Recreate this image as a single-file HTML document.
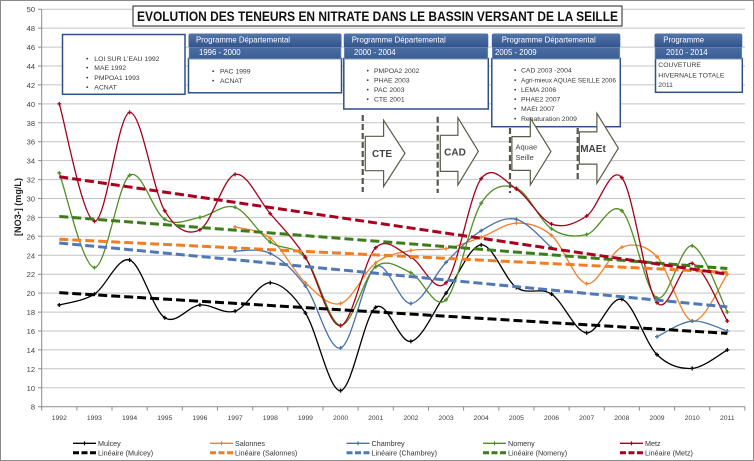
<!DOCTYPE html>
<html><head><meta charset="utf-8"><style>
html,body{margin:0;padding:0;background:#fff;}
svg{display:block;font-family:"Liberation Sans",sans-serif;}
</style></head><body>
<svg id="c" width="754" height="461" viewBox="0 0 754 461" xmlns="http://www.w3.org/2000/svg">
<rect x="0.5" y="0.5" width="753" height="460" fill="#fff" stroke="#8a8a8a"/>
<g id="grid"></g>
<g id="series"></g>
<g id="trends"></g>

<!-- Y tick labels -->
<g font-size="7.5" fill="#404040" text-anchor="end">
<text x="35" y="409.7">8</text><text x="35" y="390.8">10</text><text x="35" y="371.8">12</text>
<text x="35" y="352.9">14</text><text x="35" y="334.0">16</text><text x="35" y="315.1">18</text>
<text x="35" y="296.1">20</text><text x="35" y="277.2">22</text><text x="35" y="258.3">24</text>
<text x="35" y="239.3">26</text><text x="35" y="220.4">28</text><text x="35" y="201.5">30</text>
<text x="35" y="182.6">32</text><text x="35" y="163.6">34</text><text x="35" y="144.7">36</text>
<text x="35" y="125.8">38</text><text x="35" y="106.8">40</text><text x="35" y="87.9">42</text>
<text x="35" y="69.0">44</text><text x="35" y="50.1">46</text><text x="35" y="31.1">48</text>
<text x="35" y="12.2">50</text>
</g>
<!-- Y axis title -->
<text transform="translate(21,207) rotate(-90)" text-anchor="middle" font-size="9" font-weight="bold" fill="#222" textLength="58" lengthAdjust="spacingAndGlyphs">[NO3-] (mg/L)</text>

<!-- X labels -->
<g font-size="6.8" fill="#404040" text-anchor="middle">
<text x="59.3" y="420">1992</text><text x="94.4" y="420">1993</text><text x="129.6" y="420">1994</text>
<text x="164.8" y="420">1995</text><text x="199.9" y="420">1996</text><text x="235.1" y="420">1997</text>
<text x="270.3" y="420">1998</text><text x="305.4" y="420">1999</text><text x="340.6" y="420">2000</text>
<text x="375.7" y="420">2001</text><text x="410.9" y="420">2002</text><text x="446.1" y="420">2003</text>
<text x="481.2" y="420">2004</text><text x="516.4" y="420">2005</text><text x="551.5" y="420">2006</text>
<text x="586.7" y="420">2007</text><text x="621.8" y="420">2008</text><text x="657.0" y="420">2009</text>
<text x="692.2" y="420">2010</text><text x="727.3" y="420">2011</text>
</g>

<!-- Title -->
<rect x="133" y="6" width="489" height="20" fill="#fff" stroke="#222" stroke-width="1"/>
<text x="137" y="21.2" font-size="13.5" font-weight="bold" fill="#111" textLength="481" lengthAdjust="spacingAndGlyphs">EVOLUTION DES TENEURS EN NITRATE DANS LE BASSIN VERSANT DE LA SEILLE</text>

<!-- Box 1 -->
<rect x="62.5" y="34.5" width="122.5" height="59.8" fill="#fff" stroke="#2f5088" stroke-width="1.5"/>
<g font-size="6.8" fill="#3a3a3a">
<text x="86" y="60.8">•</text><text x="94.3" y="60.8">LOI SUR L'EAU 1992</text>
<text x="86" y="70.2">•</text><text x="94.3" y="70.2">MAE 1992</text>
<text x="86" y="79.8">•</text><text x="94.3" y="79.8">PMPOA1 1993</text>
<text x="86" y="89.5">•</text><text x="94.3" y="89.5">ACNAT</text>
</g>

<defs>
<linearGradient id="hg" x1="0" y1="0" x2="0" y2="1">
<stop offset="0" stop-color="#5275aa"/><stop offset="1" stop-color="#31538a"/>
</linearGradient>
<linearGradient id="hg2" x1="0" y1="0" x2="0" y2="1">
<stop offset="0" stop-color="#4a6ea4"/><stop offset="1" stop-color="#3a5d94"/>
</linearGradient>
</defs>

<!-- Box 2 -->
<rect x="188.5" y="58.5" width="153" height="34.3" fill="#fff" stroke="#2f5088" stroke-width="1.5"/>
<rect x="188.5" y="33.5" width="153" height="14.2" rx="2" fill="url(#hg)"/>
<rect x="189" y="47.7" width="152" height="11.2" fill="url(#hg2)" stroke="#7f9bc8" stroke-width="0.6"/>
<text x="196" y="42.3" font-size="7.8" fill="#fff">Programme Départemental</text>
<text x="199" y="55.2" font-size="7.8" fill="#fff">1996 - 2000</text>
<g font-size="6.8" fill="#3a3a3a">
<text x="212" y="73.5">•</text><text x="220" y="73.5">PAC 1999</text>
<text x="212" y="83">•</text><text x="220" y="83">ACNAT</text>
</g>

<!-- Box 3 -->
<rect x="343.8" y="58.5" width="144.5" height="50.5" fill="#fff" stroke="#2f5088" stroke-width="1.5"/>
<rect x="343.8" y="33.5" width="144.5" height="14.2" rx="2" fill="url(#hg)"/>
<rect x="344.3" y="47.7" width="143.5" height="11.2" fill="url(#hg2)" stroke="#7f9bc8" stroke-width="0.6"/>
<text x="351.7" y="42.3" font-size="7.8" fill="#fff">Programme Départemental</text>
<text x="354" y="55.2" font-size="7.8" fill="#fff">2000 - 2004</text>
<g font-size="6.8" fill="#3a3a3a">
<text x="366.5" y="73">•</text><text x="374" y="73">PMPOA2 2002</text>
<text x="366.5" y="82.5">•</text><text x="374" y="82.5">PHAE 2003</text>
<text x="366.5" y="92">•</text><text x="374" y="92">PAC 2003</text>
<text x="366.5" y="101.6">•</text><text x="374" y="101.6">CTE 2001</text>
</g>

<!-- Box 4 -->
<rect x="491.8" y="58.5" width="128.5" height="68.2" fill="#fff" stroke="#2f5088" stroke-width="1.5"/>
<rect x="491.8" y="33.5" width="128.5" height="14.2" rx="2" fill="url(#hg)"/>
<rect x="492.3" y="47.7" width="127.5" height="11.2" fill="url(#hg2)" stroke="#7f9bc8" stroke-width="0.6"/>
<text x="501.7" y="42.3" font-size="7.8" fill="#fff">Programme Départemental</text>
<text x="495" y="55.2" font-size="7.8" fill="#fff">2005 - 2009</text>
<g font-size="6.8" fill="#3a3a3a">
<text x="514" y="72.5">•</text><text x="521" y="72.5">CAD 2003 -2004</text>
<text x="514" y="82.4">•</text><text x="521" y="82.4" textLength="95" lengthAdjust="spacingAndGlyphs">Agri-mieux AQUAE SEILLE 2006</text>
<text x="514" y="91.8">•</text><text x="521" y="91.8">LEMA 2006</text>
<text x="514" y="101.5">•</text><text x="521" y="101.5">PHAE2 2007</text>
<text x="514" y="111.2">•</text><text x="521" y="111.2">MAEt 2007</text>
<text x="514" y="120.8">•</text><text x="521" y="120.8">Renaturation 2009</text>
</g>

<!-- Box 5 -->
<rect x="655.5" y="58.5" width="86.8" height="33.8" fill="#fff" stroke="#2f5088" stroke-width="1.5"/>
<rect x="654.5" y="33.5" width="87.8" height="14.2" rx="2" fill="url(#hg)"/>
<rect x="655" y="47.7" width="86.8" height="11.2" fill="url(#hg2)" stroke="#7f9bc8" stroke-width="0.6"/>
<text x="663.3" y="42.3" font-size="7.8" fill="#fff">Programme</text>
<text x="666" y="55.2" font-size="7.8" fill="#fff">2010 - 2014</text>
<g font-size="6.8" fill="#3a3a3a">
<text x="658.3" y="66.8">COUVETURE</text>
<text x="658.3" y="77.5">HIVERNALE TOTALE</text>
<text x="658.3" y="86.8">2011</text>
</g>

<!-- Dashed vertical lines -->
<g stroke="#55554a" stroke-width="2.2" stroke-dasharray="6 3" fill="none">
<line x1="362.7" y1="115" x2="362.7" y2="192"/>
<line x1="437.7" y1="116.7" x2="437.7" y2="193"/>
<line x1="510" y1="128" x2="510" y2="193"/>
<line x1="577.7" y1="128" x2="577.7" y2="182"/>
</g>

<!-- Arrows -->
<g fill="#fff" stroke="#5a5a46" stroke-linejoin="miter">
<polygon stroke-width="4" points="366.7,137.7 385,137.7 385,125 403.3,153.3 385,181.7 385,169.3 366.7,169.3"/>
<polygon stroke-width="1.6" stroke="#fff" points="366.7,137.7 385,137.7 385,125 403.3,153.3 385,181.7 385,169.3 366.7,169.3"/>
<polygon stroke-width="4" points="441.7,136.7 459.3,136.7 459.3,122.7 476.7,151.3 459.3,180 459.3,170 441.7,170"/>
<polygon stroke-width="1.6" stroke="#fff" points="441.7,136.7 459.3,136.7 459.3,122.7 476.7,151.3 459.3,180 459.3,170 441.7,170"/>
<polygon stroke-width="4" points="513.3,138 531.7,138 531.7,123 549.3,151.5 531.7,180 531.7,169 513.3,169"/>
<polygon stroke-width="1.6" stroke="#fff" points="513.3,138 531.7,138 531.7,123 549.3,151.5 531.7,180 531.7,169 513.3,169"/>
<polygon stroke-width="4" points="580.7,133.3 598.3,133.3 598.3,118.3 616.7,148.3 598.3,178.3 598.3,162.7 580.7,162.7"/>
<polygon stroke-width="1.6" stroke="#fff" points="580.7,133.3 598.3,133.3 598.3,118.3 616.7,148.3 598.3,178.3 598.3,162.7 580.7,162.7"/>
</g>
<g fill="#444" font-weight="bold">
<text x="382" y="157" font-size="10" text-anchor="middle">CTE</text>
<text x="455" y="155.5" font-size="10" text-anchor="middle">CAD</text>
<text x="515.5" y="149.5" font-size="7.5" font-weight="normal">Aquae</text>
<text x="515.5" y="160" font-size="7.5" font-weight="normal">Seille</text>
<text x="593" y="152" font-size="10" text-anchor="middle">MAEt</text>
</g>

<!-- Legend -->
<g font-size="7.2" fill="#333">
<line x1="73" y1="443.3" x2="96" y2="443.3" stroke="#000" stroke-width="1.3"/><path d="M84.5,441.3v4" stroke="#000" stroke-width="1.2"/>
<text x="98" y="446">Mulcey</text>
<line x1="210" y1="443.3" x2="233" y2="443.3" stroke="#f0802a" stroke-width="1.3"/><path d="M221.5,441.3v4" stroke="#f0802a" stroke-width="1.2"/>
<text x="235" y="446">Salonnes</text>
<line x1="346.5" y1="443.3" x2="369.5" y2="443.3" stroke="#4a72a8" stroke-width="1.3"/><path d="M358,441.3v4" stroke="#4a72a8" stroke-width="1.2"/>
<text x="371.5" y="446">Chambrey</text>
<line x1="483" y1="443.3" x2="506" y2="443.3" stroke="#4e8f22" stroke-width="1.3"/><path d="M494.5,441.3v4" stroke="#4e8f22" stroke-width="1.2"/>
<text x="508" y="446">Nomeny</text>
<line x1="620" y1="443.3" x2="643" y2="443.3" stroke="#a6001a" stroke-width="1.3"/><path d="M631.5,441.3v4" stroke="#a6001a" stroke-width="1.2"/>
<text x="645" y="446">Metz</text>

<g stroke-width="3" stroke-dasharray="6 2.5">
<line x1="73" y1="452.7" x2="96" y2="452.7" stroke="#000"/>
<line x1="210" y1="452.7" x2="233" y2="452.7" stroke="#f07f24"/>
<line x1="346.5" y1="452.7" x2="369.5" y2="452.7" stroke="#4f78b5"/>
<line x1="483" y1="452.7" x2="506" y2="452.7" stroke="#3e7c1b"/>
<line x1="620" y1="452.7" x2="643" y2="452.7" stroke="#a8001e"/>
</g>
<text x="98" y="455.4">Linéaire (Mulcey)</text>
<text x="235" y="455.4">Linéaire (Salonnes)</text>
<text x="371.5" y="455.4">Linéaire (Chambrey)</text>
<text x="508" y="455.4">Linéaire (Nomeny)</text>
<text x="645" y="455.4">Linéaire (Metz)</text>
</g>
</svg>
<script>
(function(){
var NS="http://www.w3.org/2000/svg";
var X0=59.28, DX=35.16, Y0=406.7, K=9.464;
function px(i){return X0+DX*i;}
function py(v){return Y0-(v-8)*K;}
function el(tag,attrs,parent){var e=document.createElementNS(NS,tag);for(var k in attrs)e.setAttribute(k,attrs[k]);parent.appendChild(e);return e;}
var grid=document.getElementById("grid");
var gd="";
for(var v=10;v<=50;v+=2){var y=py(v).toFixed(1);gd+="M41.7,"+y+"H745";}
el("path",{d:gd,stroke:"#c4c4c4","stroke-width":"1",fill:"none"},grid);
var td="";
for(var v=8;v<=50;v+=2){var y=py(v).toFixed(1);td+="M38,"+y+"H41.7";}
for(var k=0;k<=20;k++){var x=(41.7+35.16*k).toFixed(1);td+="M"+x+",406.7V410.5";}
el("path",{d:td,stroke:"#8c8c8c","stroke-width":"1",fill:"none"},grid);
el("path",{d:"M41.7,9.2V406.7H745",stroke:"#8c8c8c","stroke-width":"1",fill:"none"},grid);

var N=null;
var series=[
 {c:"#000000",d:[18.75,19.9,23.5,17.4,18.75,18.1,21.1,17.9,9.7,18.5,14.9,20.0,25.1,20.6,19.9,15.8,19.35,13.5,12.05,14.0]},
 {c:"#f0802a",d:[N,N,N,N,N,27.0,25.8,21.1,18.9,23.2,24.5,24.7,25.9,27.4,26.1,21.0,24.85,23.85,17.05,22.0]},
 {c:"#4a72a8",d:[N,N,N,N,N,24.45,24.2,20.75,14.2,22.8,18.9,23.25,26.6,27.8,24.8,N,N,15.4,17.05,16.0]},
 {c:"#4e8f22",d:[32.7,22.7,32.45,27.8,28.0,29.07,25.4,23.7,16.6,22.8,22.15,19.3,29.5,31.1,26.8,26.2,28.7,19.5,25.0,18.0]},
 {c:"#a6001a",d:[40,27.6,39.1,28.7,26.7,32.55,28.4,23.8,16.56,24.8,23.8,21.1,32.1,31.0,27.3,28.15,32.2,19.0,23.15,17.05]}
];
var sg=document.getElementById("series");
function f(n){return n.toFixed(2);}
function smooth(p){
 var d="M"+f(p[0][0])+","+f(p[0][1]);
 for(var i=0;i<p.length-1;i++){
  var p0=p[i-1]||p[i],p1=p[i],p2=p[i+1],p3=p[i+2]||p2;
  var c1x=p1[0]+(p2[0]-p0[0])/6,c1y=p1[1]+(p2[1]-p0[1])/6;
  var c2x=p2[0]-(p3[0]-p1[0])/6,c2y=p2[1]-(p3[1]-p1[1])/6;
  d+="C"+f(c1x)+","+f(c1y)+" "+f(c2x)+","+f(c2y)+" "+f(p2[0])+","+f(p2[1]);
 }
 return d;
}
series.forEach(function(s){
 var segs=[],cur=[];
 s.d.forEach(function(v,i){
  if(v===null){if(cur.length)segs.push(cur);cur=[];}
  else cur.push([px(i),py(v)]);
 });
 if(cur.length)segs.push(cur);
 var md="";
 segs.forEach(function(seg){
  if(seg.length>1)el("path",{d:smooth(seg),stroke:s.c,"stroke-width":"1.3",fill:"none"},sg);
  seg.forEach(function(p){md+="M"+f(p[0]-2)+","+f(p[1])+"h4M"+f(p[0])+","+f(p[1]-2)+"v4";});
 });
 el("path",{d:md,stroke:s.c,"stroke-width":"1.3",fill:"none"},sg);
});

var trends=[
 {c:"#000000",a:20.05,b:15.75},
 {c:"#f07f24",a:25.7,b:22.2},
 {c:"#4f78b5",a:25.3,b:18.55},
 {c:"#3e7c1b",a:28.1,b:22.6},
 {c:"#a8001e",a:32.3,b:22.0}
];
var tg=document.getElementById("trends");
trends.forEach(function(t){
 el("line",{x1:f(px(0)),y1:f(py(t.a)),x2:f(px(19)),y2:f(py(t.b)),stroke:t.c,"stroke-width":"3","stroke-dasharray":"9 4",fill:"none"},tg);
});
})();
</script>
</body></html>
